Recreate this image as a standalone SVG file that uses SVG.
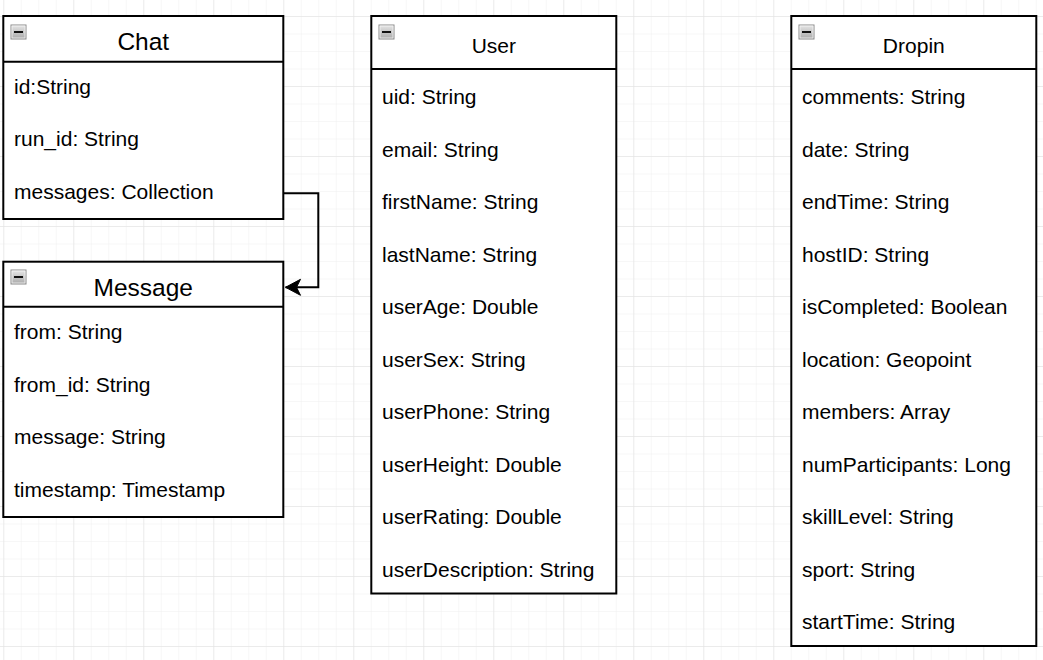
<svg xmlns="http://www.w3.org/2000/svg" width="1043" height="660" viewBox="0 0 1043 660">
<style>
.box{fill:#fff;stroke:#000;stroke-width:2}
.sep{stroke:#000;stroke-width:2}
.t{font-family:"Liberation Sans",Arial,sans-serif;font-size:21px;fill:#000}
.big{font-size:24.5px}
.mid{text-anchor:middle}
.conn{fill:none;stroke:#000;stroke-width:2}
</style>
<defs>
<pattern id="minor" x="3.3" y="16" width="17.5" height="17.5" patternUnits="userSpaceOnUse">
<path d="M0 0H17.5M0 0V17.5" fill="none" stroke="#efefef" stroke-width="1"/>
</pattern>
<pattern id="major" x="3.3" y="16" width="70" height="70" patternUnits="userSpaceOnUse">
<path d="M0 0H70M0 0V70" fill="none" stroke="#e0e0e0" stroke-width="1"/>
</pattern>
<linearGradient id="ig" x1="0" y1="0" x2="0" y2="1">
<stop offset="0" stop-color="#e6e6e6"/>
<stop offset="1" stop-color="#a9a9a9"/>
</linearGradient>
<g id="icon">
<rect x="0.5" y="0.5" width="15" height="14" fill="url(#ig)" stroke="#8a8a8a"/>
<rect x="1.5" y="1.5" width="13" height="12" fill="none" stroke="#f4f4f4" stroke-width="0.8"/>
<rect x="3.5" y="6.5" width="9" height="2" fill="#111"/>
</g>
<marker id="arrow" markerWidth="18" markerHeight="18" refX="16" refY="9" orient="auto" markerUnits="userSpaceOnUse">
<path d="M16 9L1 1L5 9L1 17Z" fill="#000" stroke="#000" stroke-width="1"/>
</marker>
</defs>
<rect width="1043" height="660" fill="#fff"/>
<rect width="1043" height="660" fill="url(#minor)"/>
<rect width="1043" height="660" fill="url(#major)"/>

<g id="connectors">
<path class="conn" d="M283.3 193.3H318.3V287.3H285.5" marker-end="url(#arrow)"/>
</g>

<g id="chat">
<rect class="box" x="3.3" y="16" width="280" height="203"/>
<line class="sep" x1="3.3" y1="61.7" x2="283.3" y2="61.7"/>
<use href="#icon" x="10.5" y="24.5"/>
<text class="t big mid" x="143.3" y="50">Chat</text>
<text class="t" x="14" y="93.5">id:String</text>
<text class="t" x="14" y="146">run_id: String</text>
<text class="t" x="14" y="198.5">messages: Collection</text>
</g>

<g id="message">
<rect class="box" x="3.3" y="261.7" width="280" height="255.3"/>
<line class="sep" x1="3.3" y1="306.7" x2="283.3" y2="306.7"/>
<use href="#icon" x="10.5" y="269.5"/>
<text class="t big mid" x="143.3" y="295.7">Message</text>
<text class="t" x="14" y="339">from: String</text>
<text class="t" x="14" y="391.5">from_id: String</text>
<text class="t" x="14" y="444">message: String</text>
<text class="t" x="14" y="496.5">timestamp: Timestamp</text>
</g>

<g id="user">
<rect class="box" x="371.3" y="16" width="245" height="577.5"/>
<line class="sep" x1="371.3" y1="69" x2="616.3" y2="69"/>
<use href="#icon" x="378.5" y="24.5"/>
<text class="t mid" x="493.8" y="52.7">User</text>
<text class="t" x="382" y="104.3">uid: String</text>
<text class="t" x="382" y="156.8">email: String</text>
<text class="t" x="382" y="209.3">firstName: String</text>
<text class="t" x="382" y="261.8">lastName: String</text>
<text class="t" x="382" y="314.3">userAge: Double</text>
<text class="t" x="382" y="366.8">userSex: String</text>
<text class="t" x="382" y="419.3">userPhone: String</text>
<text class="t" x="382" y="471.8">userHeight: Double</text>
<text class="t" x="382" y="524.3">userRating: Double</text>
<text class="t" x="382" y="576.8">userDescription: String</text>
</g>

<g id="dropin">
<rect class="box" x="791.3" y="16" width="245" height="630"/>
<line class="sep" x1="791.3" y1="69" x2="1036.3" y2="69"/>
<use href="#icon" x="798.5" y="24.5"/>
<text class="t mid" x="913.8" y="52.7">Dropin</text>
<text class="t" x="802" y="104.3">comments: String</text>
<text class="t" x="802" y="156.8">date: String</text>
<text class="t" x="802" y="209.3">endTime: String</text>
<text class="t" x="802" y="261.8">hostID: String</text>
<text class="t" x="802" y="314.3">isCompleted: Boolean</text>
<text class="t" x="802" y="366.8">location: Geopoint</text>
<text class="t" x="802" y="419.3">members: Array</text>
<text class="t" x="802" y="471.8">numParticipants: Long</text>
<text class="t" x="802" y="524.3">skillLevel: String</text>
<text class="t" x="802" y="576.8">sport: String</text>
<text class="t" x="802" y="629.3">startTime: String</text>
</g>
</svg>
